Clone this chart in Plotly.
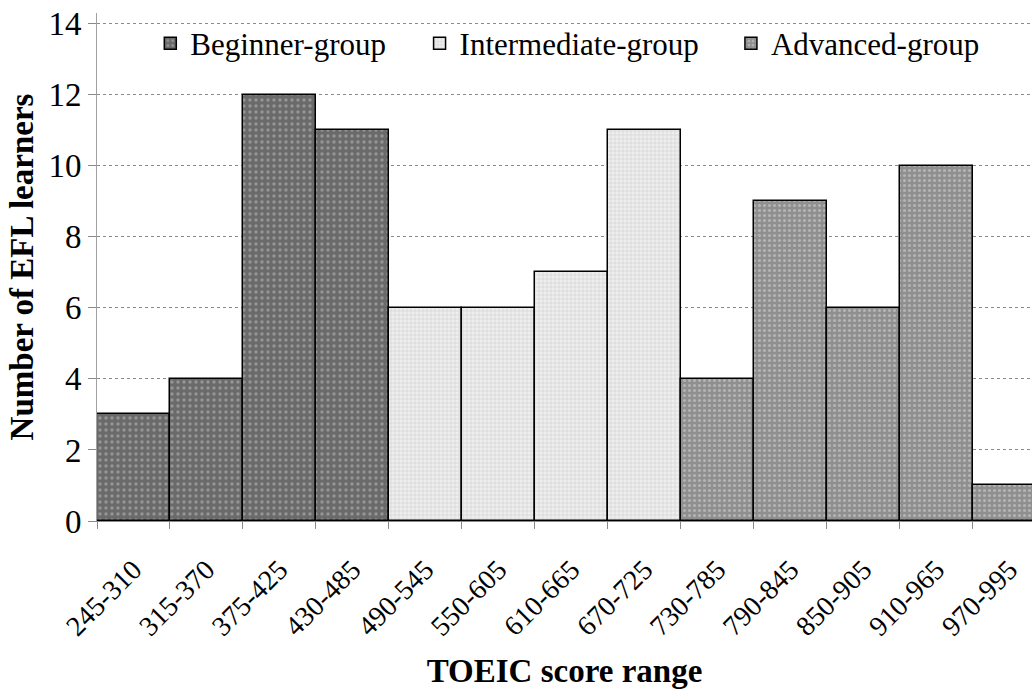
import plotly.graph_objects as go

categories = ["245-310", "315-370", "375-425", "430-485", "490-545", "550-605",
              "610-665", "670-725", "730-785", "790-845", "850-905", "910-965", "970-995"]
beginner_cats = categories[0:4]
beginner_vals = [3, 4, 12, 11]
intermediate_cats = categories[4:8]
intermediate_vals = [6, 6, 7, 11]
advanced_cats = categories[8:13]
advanced_vals = [4, 9, 6, 10, 1]
y_ticks = [0, 2, 4, 6, 8, 10, 12, 14]

serif = "Liberation Serif, Times New Roman, serif"

fig = go.Figure()
fig.add_trace(go.Bar(
    x=beginner_cats, y=beginner_vals, name="Beginner-group", legend="legend",
    marker=dict(color="#6f6f6f", line=dict(color="black", width=1.5),
                pattern=dict(shape=".", fgcolor="#c0c0c0", bgcolor="#6a6a6a", size=6, solidity=0.25)),
))
fig.add_trace(go.Bar(
    x=intermediate_cats, y=intermediate_vals, name="Intermediate-group", legend="legend2",
    marker=dict(color="#dedede", line=dict(color="black", width=1.5),
                pattern=dict(shape="+", fgcolor="#b8b8b8", bgcolor="#eeeeee", size=4, solidity=0.3)),
))
fig.add_trace(go.Bar(
    x=advanced_cats, y=advanced_vals, name="Advanced-group", legend="legend3",
    marker=dict(color="#9a9a9a", line=dict(color="black", width=1.5),
                pattern=dict(shape=".", fgcolor="#d8d8d8", bgcolor="#8f8f8f", size=5, solidity=0.3)),
))

legend_common = dict(orientation="h", y=0.94, xanchor="left", yanchor="middle",
                     font=dict(size=31, family=serif), bgcolor="rgba(0,0,0,0)",
                     itemwidth=30)

fig.update_layout(
    width=1032, height=689,
    margin=dict(l=97, r=0, t=13, b=168, autoexpand=False),
    paper_bgcolor="white", plot_bgcolor="white",
    barmode="relative", bargap=0,
    font=dict(family=serif, color="black"),
    showlegend=True,
    legend=dict(x=0.057, **legend_common),
    legend2=dict(x=0.345, **legend_common),
    legend3=dict(x=0.678, **legend_common),
)
fig.update_xaxes(
    type="category", categoryorder="array", categoryarray=categories,
    range=[-0.5, 12.31], tickangle=-45, tickfont=dict(size=28, family=serif),
    tickson="boundaries", ticklabelstandoff=20,
    automargin=False,
    showline=True, linecolor="#8a8a8a", linewidth=1,
    ticks="outside", ticklen=7, tickcolor="#8a8a8a",
    showgrid=False, zeroline=False,
    title=dict(text="<b>TOEIC score range</b>", font=dict(size=33, family=serif), standoff=18),
)
fig.update_yaxes(
    range=[0, 14.3], tickvals=y_ticks, tickfont=dict(size=33, family=serif),
    automargin=False, ticklabeloverflow="allow",
    showline=True, linecolor="#a0a0a0", linewidth=1,
    ticks="outside", ticklen=8, tickcolor="#8a8a8a",
    showgrid=True, gridcolor="#8a8a8a", griddash="dot", gridwidth=1,
    zeroline=False,
    title=dict(text="<b>Number of EFL learners</b>", font=dict(size=33, family=serif), standoff=4),
)

fig.write_html("out.html", config={"displayModeBar": False},
               post_script="document.body.style.margin='0';")
